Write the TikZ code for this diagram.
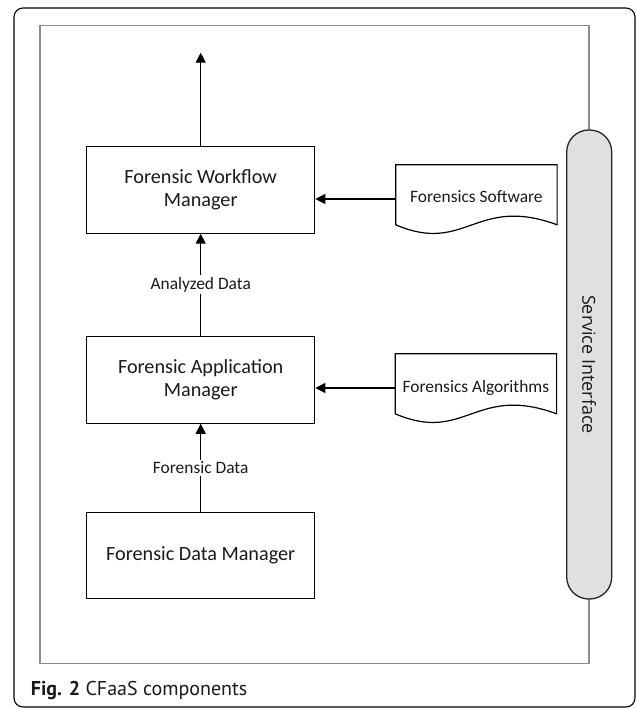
\documentclass[tikz,border=0pt]{standalone}
\usepackage{fontspec}
\setmainfont{Carlito}
\newfontfamily\capfont{PT Sans}
\newfontfamily\sifont{Open Sans}
\usetikzlibrary{arrows.meta,calc}
\definecolor{txt}{HTML}{1A1A1A}
\begin{document}
\begin{tikzpicture}[x=1pt,y=-1pt,
  boxnode/.style={draw=black, line width=1.2pt, minimum width=228pt, minimum height=86.5pt,
    align=center, text=txt, font=\fontsize{20.2}{23.5}\selectfont},
  docnode/.style={minimum width=161pt, minimum height=68pt, inner sep=0pt, text=txt,
    font=\fontsize{17.4}{20}\selectfont},
  lbl/.style={fill=white, inner sep=2pt, text=txt, font=\fontsize{17.4}{20}\selectfont},
  arr/.style={line width=1.2pt, -{Triangle[length=10pt,width=10pt]}},
  docline/.style={draw=black, line width=1.2pt}
]
\useasboundingbox (0,0) rectangle (636,708);
% outer frame
\draw[line width=1.1pt, rounded corners=9pt] (14,8) rectangle (635,707);
% inner gray frame
\draw[draw=black!45, line width=1.3pt] (40,25.7) rectangle (589,663.5);
% service interface pill
\node[draw=black!85, line width=1.3pt, fill=black!12, rounded corners=22pt,
  minimum width=45pt, minimum height=469pt, inner sep=0pt] (si) at (589.2,364.5) {};
\node[rotate=-90, text=txt, font=\sifont\fontsize{18}{21}\selectfont] (sitext) at (si.center) {Service Interface};
% boxes
\node[boxnode] (wf) at (200.7,189.9) {Forensic Workflow\\Manager};
\node[boxnode] (app) at (200.7,379.9) {Forensic Application\\Manager};
\node[boxnode] (dm) at (200.7,555.5) {Forensic Data Manager};
% documents
\node[docnode] (sw) at (476.4,199) {\raisebox{4pt}{Forensics Software}};
\node[docnode] (al) at (475.9,388) {\raisebox{4pt}{Forensics Algorithms}};
\foreach \d in {sw,al}{
  \draw[docline] (\d.north west) -- (\d.north east) -- ($(\d.north east)+(0,60)$)
    .. controls ($(\d.north west)+(80,30)$) and ($(\d.north west)+(70,90)$) .. ($(\d.north west)+(0,60)$) -- cycle;
}
% connectors
\coordinate (topend) at (200.7,52.7);
\draw[arr] (wf.north) -- (topend);
\draw[arr] (app.north) -- node[lbl] (l1) {Analyzed Data} (wf.south);
\draw[arr] (dm.north) -- node[lbl] (l2) {Forensic Data} (app.south);
\draw[arr] (sw.west) -- (sw.west -| wf.east);
\draw[arr] (al.west) -- (al.west -| app.east);
% caption
\node[anchor=base west, inner sep=0pt, text=txt, font=\capfont\fontsize{20}{22}\selectfont] (cap) at (30.7,695)
  {\textbf{Fig. 2} CFaaS components};
\end{tikzpicture}
\end{document}
